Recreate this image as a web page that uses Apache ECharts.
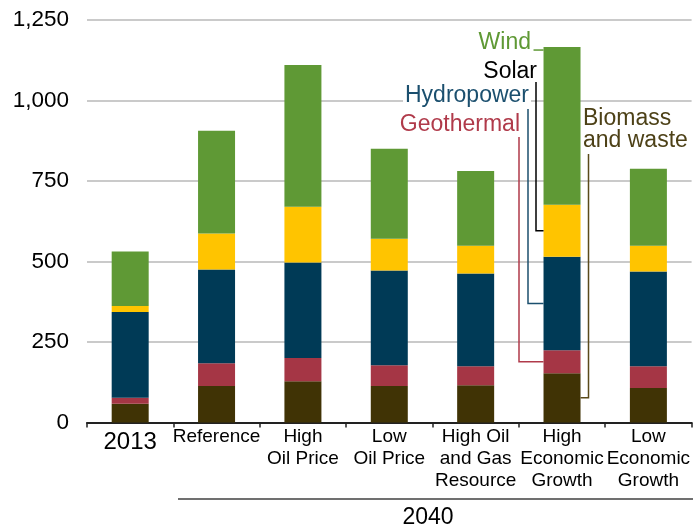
<!DOCTYPE html>
<html>
<head>
<meta charset="utf-8">
<script src="https://cdn.jsdelivr.net/npm/echarts@6/dist/echarts.min.js"></script>
<style>
html,body{margin:0;padding:0;background:#fff;}
#main{width:693px;height:529px;}
</style>
</head>
<body>
<div id="main"></div>
<script>
const categories = ['2013', 'Reference', 'High\nOil Price', 'Low\nOil Price', 'High Oil\nand Gas\nResource', 'High\nEconomic\nGrowth', 'Low\nEconomic\nGrowth'];
const biomass    = [58, 113, 128, 113, 116, 153, 107];
const geothermal = [19, 71, 72, 65, 59, 71, 68];
const hydropower = [266, 291, 297, 294, 288, 291, 294];
const solar      = [19, 112, 173, 99, 86, 161, 80];
const wind       = [169, 319, 440, 279, 232, 490, 239];
const yTicks     = [0, 250, 500, 750, 1000, 1250];
const groupLabel = '2040';
const unitLabel  = '(billion kilowatthours)';
const seriesNames = ['Biomass and waste', 'Geothermal', 'Hydropower', 'Solar', 'Wind'];

const FONT = '"Liberation Sans", Arial, sans-serif';
const colors = {
  bio: '#403305', geo: '#a53645', hydro: '#003a56', solar: '#ffc400', wind: '#5f9935'
};
const labelColors = {
  bio: '#4d4117', geo: '#b03a4a', hydro: '#1b4f6e', solar: '#000000', wind: '#5f9935'
};

const chart = echarts.init(document.getElementById('main'), null, {renderer: 'canvas'});
const BAR_W = 37;

function mk(name, data, color) {
  return {
    name: name, type: 'bar', stack: 'total', data: data, barWidth: BAR_W,
    itemStyle: {color: color}, emphasis: {disabled: true}, animation: false
  };
}

chart.setOption({
  animation: false,
  textStyle: {fontFamily: FONT},
  grid: {left: 87, right: 0, top: 20, bottom: 106.5, containLabel: false},
  xAxis: {
    type: 'category',
    data: categories,
    axisLine: {show: true, lineStyle: {color: '#222', width: 2}},
    axisTick: {show: true, length: 5, lineStyle: {color: '#222', width: 1.5}},
    axisLabel: {
      interval: 0, color: '#000', fontSize: 19, lineHeight: 22, margin: 3, fontFamily: FONT,
      formatter: function (v) { return v === '2013' ? '{big|2013}' : v; },
      rich: {big: {fontSize: 24, lineHeight: 30, color: '#000', fontFamily: FONT, padding: [4, 0, 0, 0]}}
    },
    splitLine: {show: false}
  },
  yAxis: {
    type: 'value',
    min: yTicks[0], max: yTicks[yTicks.length - 1], interval: yTicks[1] - yTicks[0],
    axisLine: {show: false}, axisTick: {show: false},
    axisLabel: {
      color: '#000', fontSize: 22.5, margin: 18, fontFamily: FONT,
      formatter: function (v) { return v.toLocaleString('en-US'); }
    },
    splitLine: {lineStyle: {color: '#b8b8b8', width: 1.5}}
  },
  series: [
    mk(seriesNames[0], biomass, colors.bio),
    mk(seriesNames[1], geothermal, colors.geo),
    mk(seriesNames[2], hydropower, colors.hydro),
    mk(seriesNames[3], solar, colors.solar),
    mk(seriesNames[4], wind, colors.wind)
  ]
});

// annotation leader lines attached to the "High Economic Growth" bar
const k = 5;
const cx = chart.convertToPixel({xAxisIndex: 0}, categories[k]);
const py = v => chart.convertToPixel({yAxisIndex: 0}, v);
const left = cx - BAR_W / 2, right = cx + BAR_W / 2;
const c1 = biomass[k], c2 = c1 + geothermal[k], c3 = c2 + hydropower[k], c4 = c3 + solar[k], c5 = c4 + wind[k];
const yBio = py(c1 / 2), yGeo = py((c1 + c2) / 2), yHyd = py((c2 + c3) / 2), ySol = py((c3 + c4) / 2), yWind = py(c5) + 3;

function poly(points, color) {
  return {type: 'polyline', shape: {points: points}, style: {stroke: color, lineWidth: 1.5, fill: null}, z: 10, silent: true};
}
function txt(x, y, text, color, align, extra) {
  return {type: 'text', x: x, y: y, z: 11, silent: true,
    style: Object.assign({text: text, fill: color, font: '23px ' + FONT, align: align, verticalAlign: 'middle'}, extra || {})};
}

chart.setOption({
  graphic: [
    txt(5, -14.5, unitLabel, '#29a8e0', 'left', {font: '30px ' + FONT}),
    poly([[left - 10, yWind], [left, yWind]], labelColors.wind),
    poly([[536, 82], [536, ySol], [left, ySol]], labelColors.solar),
    poly([[528, 109], [528, yHyd], [left, yHyd]], labelColors.hydro),
    poly([[519, 137], [519, yGeo], [left, yGeo]], labelColors.geo),
    poly([[588.5, 154], [588.5, yBio], [right, yBio]], '#5a4a1a'),
    txt(531, 43, 'Wind', labelColors.wind, 'right'),
    txt(537, 72, 'Solar', labelColors.solar, 'right'),
    txt(531, 96, 'Hydropower', labelColors.hydro, 'right', {backgroundColor: '#fff', padding: [0, 2, 0, 2]}),
    txt(520, 125, 'Geothermal', labelColors.geo, 'right'),
    txt(583, 130, 'Biomass\nand waste', labelColors.bio, 'left', {lineHeight: 22}),
    {type: 'line', shape: {x1: 178, y1: 499, x2: 693, y2: 499}, style: {stroke: '#404040', lineWidth: 1.5}, silent: true},
    txt(428, 518, groupLabel, '#000', 'center')
  ]
});
</script>
</body>
</html>
